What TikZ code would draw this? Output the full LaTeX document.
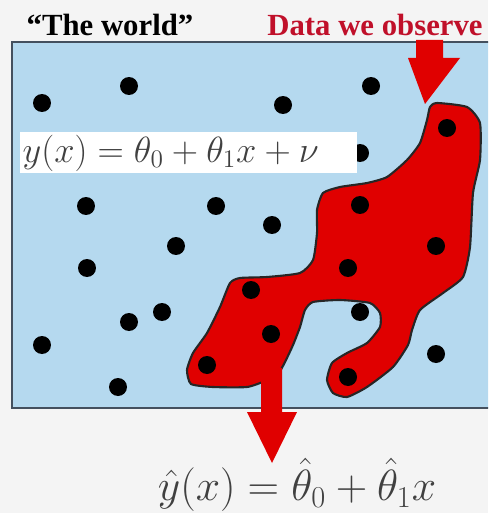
\documentclass[tikz,border=0pt]{standalone}
\usepackage{fontspec}
\newfontfamily\labelfont{Liberation Serif}
\usetikzlibrary{calc}

\definecolor{skyfill}{HTML}{B5D9EF}
\definecolor{blobred}{HTML}{E00000}
\definecolor{titlered}{HTML}{C0102A}
\definecolor{paper}{HTML}{F4F4F4}
\definecolor{frame}{HTML}{44505E}

\begin{document}
\begin{tikzpicture}[x=0.02cm, y=-0.02cm, thick,
    dot/.style={fill=black},
    blob/.style={fill=blobred, draw=black!85, line width=1.2pt},
    bigarrow/.style={fill=blobred},
    heading/.style={font=\labelfont\bfseries\fontsize{17.5}{20}\selectfont, inner sep=0pt}]
  \fill[paper] (0,0) rectangle (488,513);
  \useasboundingbox (0,0) rectangle (488,513);
  \clip (0,0) rectangle (488,513);

  % the world
  \coordinate (W1) at (12,42);
  \coordinate (W2) at (494,408);
  \filldraw[fill=skyfill, draw=frame, line width=1.4pt] (W1) rectangle (W2);

  % observed region
  \draw[blob] plot[smooth cycle, tension=0.35] coordinates {
    (437,103) (467,107) (480,123) (480,160) (473,193) (470,247) (463,277)
    (443,293) (420,310) (412,330) (408,345) (393,367) (367,387) (347,397)
    (333,393) (327,380) (332,363) (347,353) (367,343) (380,327) (380,313)
    (370,303) (340,300) (313,302) (305,310) (300,327) (293,345) (285,362)
    (278,374) (265,381) (247,387) (213,387) (191,384) (187,370) (193,353)
    (207,333) (220,307) (230,283) (240,278) (267,277) (300,273) (313,260)
    (317,233) (317,210) (323,193) (340,187) (367,183) (387,177) (407,160)
    (420,143) (427,120) (430,107)};

  % data points
  \foreach \p in {(42,103),(129,86),(283,105),(371,86),(447,128),(360,153),
                  (86,206),(216,206),(272,225),(176,246),(360,205),(436,246),
                  (87,268),(348,268),(251,290),(129,322),(162,312),(360,312),
                  (271,334),(42,345),(436,354),(207,365),(348,377),(118,387)}
    \fill[dot] \p circle (0.18cm);

  % model
  \fill[white] (20,132) rectangle (357,173);
  \node[anchor=west, inner sep=0pt, text=black!75] (model) at (22,153)
    {\fontsize{22}{26}\selectfont $y(x) = \theta_0 + \theta_1 x + \nu$};

  % arrows
  \coordinate (topA) at (425,104);
  \coordinate (botA) at (272,463);
  \fill[bigarrow] (416,40) -- (443,40) -- (443,58) -- (460,58) -- (topA)
    -- (408,58) -- (416,58) -- cycle;
  \fill[bigarrow] (261,368) -- (282,368) -- (282,412) -- (297,412) -- (botA)
    -- (247,412) -- (261,412) -- cycle;

  \node[heading] (world) at (110,25) {“The world”};
  \node[heading, text=titlered] (data) at (375,25) {Data we observe};
  \node[inner sep=0pt, text=black!75] (fit) at (297,485)
    {\fontsize{23.5}{28}\selectfont $\hat{y}(x) = \hat{\theta}_0 + \hat{\theta}_1 x$};
\end{tikzpicture}
\end{document}
